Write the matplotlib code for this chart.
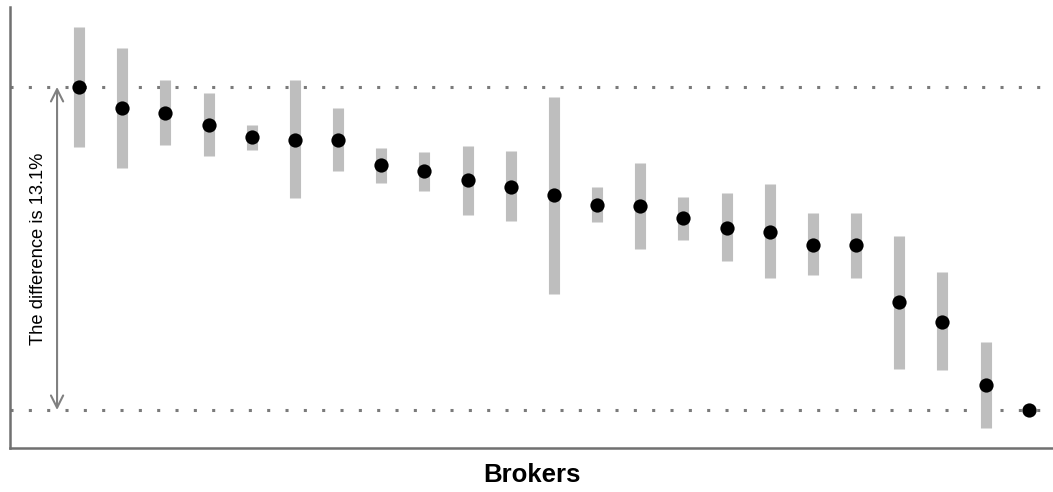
import numpy as np
import matplotlib.pyplot as plt

plt.rcParams['font.family'] = ['Liberation Sans', 'DejaVu Sans']

# broker estimates (%) with interval bounds, sorted high to low
brokers = np.arange(1, 24)
estimate = [93.10, 92.25, 92.05, 91.56, 91.07, 90.95, 90.95, 89.94, 89.69, 89.33,
            89.05, 88.72, 88.31, 88.27, 87.79, 87.38, 87.22, 86.69, 86.69, 84.38,
            83.57, 81.02, 80.00]
lower = [90.67, 89.82, 90.75, 90.30, 90.55, 88.60, 89.69, 89.21, 88.88, 87.91,
         87.67, 84.71, 87.63, 86.53, 86.90, 86.04, 85.35, 85.48, 85.35, 81.66,
         81.62, 79.27, 80.00]
upper = [95.53, 94.68, 93.38, 92.86, 91.56, 93.38, 92.25, 90.63, 90.46, 90.71,
         90.50, 92.69, 89.04, 90.02, 88.64, 88.80, 89.17, 87.99, 87.99, 87.06,
         85.60, 82.76, 80.00]
top_line = estimate[0]
bottom_line = estimate[-1]
diff_text = "The difference is 13.1%"

fig = plt.figure(figsize=(10.53, 4.92), dpi=100)
ax = fig.add_axes([10 / 1053, 44 / 492, 1043 / 1053, 441 / 492])

ax.vlines(brokers, lower, upper, color='#bebebe', lw=8, zorder=1)
ax.scatter(brokers, estimate, s=105, color='black', zorder=3, linewidths=0)

ax.axhline(top_line, color='#7a7a7a', lw=2.2, ls=(0, (1, 5)), zorder=0)
ax.axhline(bottom_line, color='#7a7a7a', lw=2.2, ls=(0, (1, 5)), zorder=0)

ax.annotate('', xy=(0.49, top_line), xytext=(0.49, bottom_line),
            arrowprops=dict(arrowstyle='<->', color='#808080', lw=1.5,
                            mutation_scale=22, shrinkA=0, shrinkB=0))
ax.text(0.05, (top_line + bottom_line) / 2, diff_text, rotation=90,
        ha='center', va='center', fontsize=13.2)

ax.set_xlim(-0.6, 23.56)
ax.set_ylim(78.46, 96.34)
ax.set_xticks([])
ax.set_yticks([])
for side in ['top', 'right']:
    ax.spines[side].set_visible(False)
for side in ['left', 'bottom']:
    ax.spines[side].set_color('#707070')
    ax.spines[side].set_linewidth(1.8)
ax.set_xlabel('Brokers', fontsize=18.5, fontweight='bold', labelpad=11)

plt.savefig('out.png', dpi=100)
